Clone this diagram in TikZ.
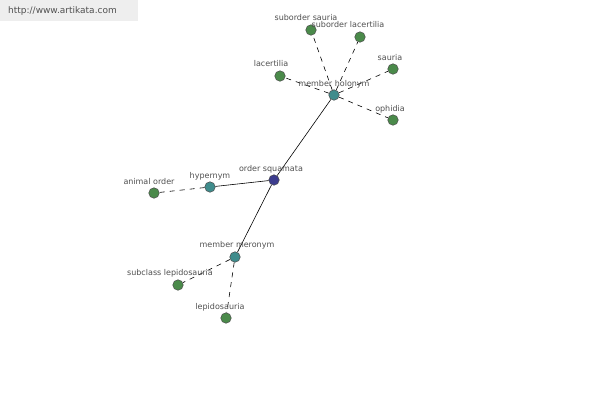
\documentclass[tikz,border=0pt]{standalone}
\usepackage{fontspec}
\setmainfont{DejaVu Sans}
\definecolor{leafc}{HTML}{4A8A4A}
\definecolor{relc}{HTML}{3F8C8C}
\definecolor{rootc}{HTML}{3C3C8E}
\definecolor{labc}{HTML}{505050}
\definecolor{wmbg}{HTML}{EEEEEE}
\tikzset{
  dot/.style={circle,draw=black!70,line width=0.5pt,minimum size=10.5pt,inner sep=0pt},
  leaf/.style={dot,fill=leafc},
  rel/.style={dot,fill=relc},
  root/.style={dot,fill=rootc},
  lab/.style={font=\fontsize{8}{9}\selectfont,text=labc,inner sep=0pt},
  solidedge/.style={draw=black,line width=0.6pt},
  dashedge/.style={draw=black,line width=0.6pt,dash pattern=on 5pt off 5pt},
}
\begin{document}
\begin{tikzpicture}[x=1pt,y=-1pt]
\useasboundingbox[fill=white] (0,0) rectangle (600,400);
\fill[wmbg] (0,0) rectangle (138,21);
\node[font=\fontsize{9}{10}\selectfont,text=labc,anchor=west,inner sep=0pt] (wm) at (8,11) {http://www.artikata.com};

\node[root] (sq) at (274,180) {};
\node[rel] (hyp) at (210,187) {};
\node[rel] (hol) at (334,95) {};
\node[rel] (mer) at (235,257) {};
\node[leaf] (ao) at (154,193) {};
\node[leaf] (ss) at (311,30) {};
\node[leaf] (sl) at (360,37) {};
\node[leaf] (sa) at (393,69) {};
\node[leaf] (la) at (280,76) {};
\node[leaf] (op) at (393,120) {};
\node[leaf] (sc) at (178,285) {};
\node[leaf] (lp) at (226,318) {};

\draw[solidedge] (sq) -- (hyp);
\draw[solidedge] (sq) -- (hol);
\draw[solidedge] (sq) -- (mer);
\draw[dashedge] (hyp) -- (ao);
\draw[dashedge] (hol) -- (ss);
\draw[dashedge] (hol) -- (sl);
\draw[dashedge] (hol) -- (sa);
\draw[dashedge] (hol) -- (la);
\draw[dashedge] (hol) -- (op);
\draw[dashedge] (mer) -- (sc);
\draw[dashedge] (mer) -- (lp);

\node[lab] (lsq) at (271,169) {order squamata};
\node[lab] (lhyp) at (210,176) {hypernym};
\node[lab] (lao) at (149,182) {animal order};
\node[lab] (lhol) at (334,84) {member holonym};
\node[lab] (lss) at (306,18) {suborder sauria};
\node[lab] (lsl) at (348,25) {suborder lacertilia};
\node[lab] (lsa) at (390,58) {sauria};
\node[lab] (lla) at (271,64) {lacertilia};
\node[lab] (lop) at (390,109) {ophidia};
\node[lab] (lmer) at (237,245) {member meronym};
\node[lab] (lsc) at (170,273) {subclass lepidosauria};
\node[lab] (llp) at (220,307) {lepidosauria};
\end{tikzpicture}
\end{document}
